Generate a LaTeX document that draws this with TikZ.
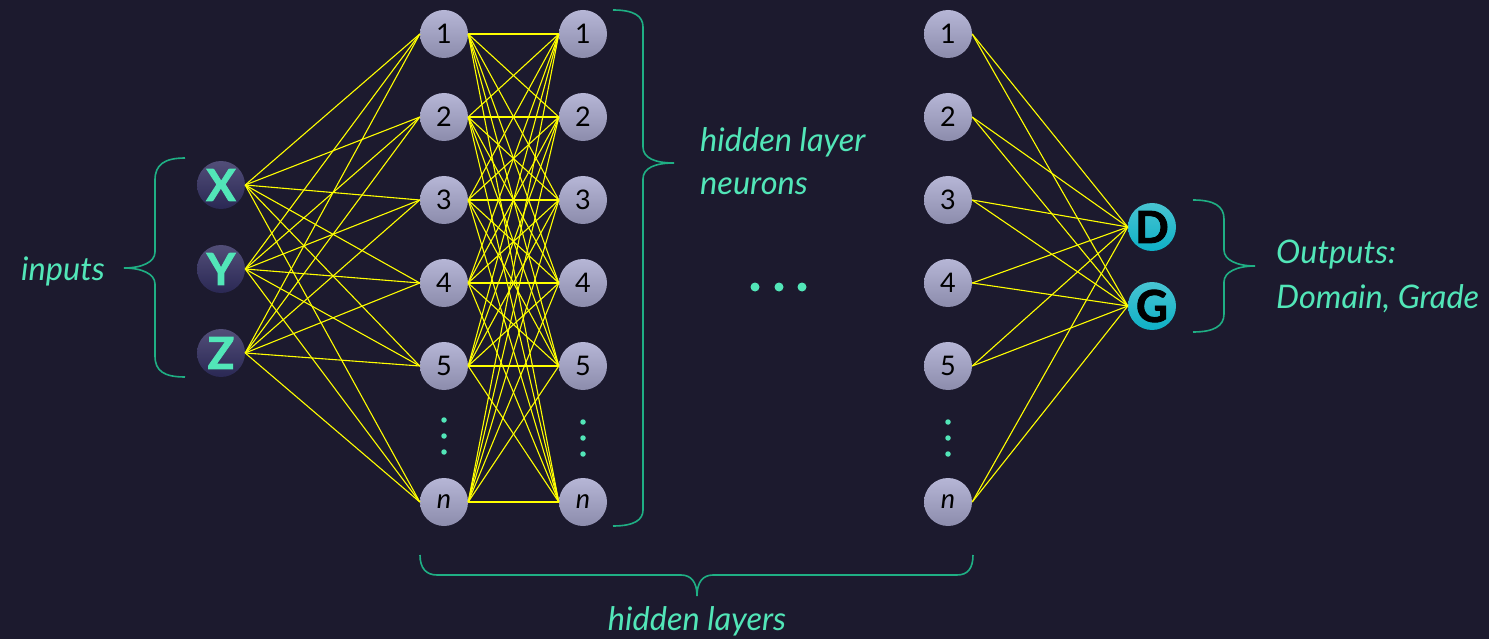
\documentclass[tikz,border=0pt]{standalone}
\usepackage{fontspec}
\setmainfont{Lato}
\newfontfamily\heavyfont[FakeBold=2]{Lato}
\definecolor{bg}{HTML}{1C1A2E}
\definecolor{mint}{HTML}{52E6B8}
\definecolor{bracec}{HTML}{1FAF84}
\definecolor{wire}{HTML}{FFFF00}
\definecolor{hidtop}{HTML}{B6B6D6}
\definecolor{hidbot}{HTML}{8C8CAC}
\definecolor{inptop}{HTML}{524E78}
\definecolor{inpbot}{HTML}{2A2854}
\definecolor{outtop}{HTML}{48C4D2}
\definecolor{outbot}{HTML}{0EB0C6}
\tikzset{
  hid/.style={circle, minimum size=48pt, inner sep=0pt, top color=hidtop, bottom color=hidbot, text=black, font=\fontsize{27}{27}\selectfont},
  inp/.style={circle, minimum size=48pt, inner sep=0pt, top color=inptop, bottom color=inpbot, text=mint, font=\fontsize{44}{44}\selectfont\heavyfont\bfseries},
  outn/.style={circle, minimum size=48pt, inner sep=0pt, top color=outtop, bottom color=outbot, text=black, font=\fontsize{44}{44}\selectfont\heavyfont\bfseries},
  wireline/.style={draw=wire, line width=1.1pt},
  bracepath/.style={draw=bracec, line width=1.6pt},
  lbl/.style={text=mint, inner sep=0pt, font=\fontsize{32.5}{36}\selectfont\itshape},
  vdot/.style={circle, fill=mint, inner sep=0pt, minimum size=5.5pt},
  hdot/.style={circle, fill=mint, inner sep=0pt, minimum size=9pt}
}
\begin{document}
\begin{tikzpicture}[x=1pt,y=-1pt]
\fill[bg] (0,0) rectangle (1489,639);
\useasboundingbox (0,0) rectangle (1489,639);
% input nodes
\node[inp] (i1) at (221,185) {X};
\node[inp] (i2) at (221,269) {Y};
\node[inp] (i3) at (221,353) {Z};
% hidden layers
\foreach \y/\t [count=\k] in {34/1,117/2,200/3,283/4,366/5,502/\textit{n}} {
  \node[hid] (a\k) at (444,\y) {\t};
  \node[hid] (b\k) at (583,\y) {\t};
  \node[hid] (c\k) at (948,\y) {\t};
}
% outputs
\node[outn] (oD) at (1152,227) {D};
\node[outn] (oG) at (1152,306) {G};
% connections
\foreach \i in {1,2,3} \foreach \k in {1,...,6} \draw[wireline] (i\i.east) -- (a\k.west);
\foreach \j in {1,...,6} \foreach \k in {1,...,6} \draw[wireline] (a\j.east) -- (b\k.west);
\foreach \j in {1,...,6} \foreach \o in {D,G} \draw[wireline] (c\j.east) -- (o\o.west);
% vertical dots
\foreach \x/\s [count=\m] in {444/0,583/2,948/2} {
  \node[vdot] (vd\m a) at (\x,420+\s) {};
  \node[vdot] (vd\m b) at (\x,436+\s) {};
  \node[vdot] (vd\m c) at (\x,452+\s) {};
}
% horizontal dots
\node[hdot] (hd1) at (755,287) {};
\node[hdot] (hd2) at (779,287) {};
\node[hdot] (hd3) at (802,287) {};
% braces
\draw[bracepath] (185,158) .. controls (164,158) and (155,165) .. (155,180) -- (155,252) .. controls (155,262) and (142,268) .. (124,268) .. controls (142,268) and (155,274) .. (155,284) -- (155,356) .. controls (155,371) and (164,377) .. (185,377);
\draw[bracepath] (613,10) .. controls (634,10) and (643,16) .. (643,27) -- (643,147) .. controls (643,158) and (655,163) .. (674,163) .. controls (655,163) and (643,168) .. (643,179) -- (643,510) .. controls (643,520) and (634,526) .. (613,526);
\draw[bracepath] (1193,200) .. controls (1214,200) and (1224,206) .. (1224,219) -- (1224,250) .. controls (1224,260) and (1237,266) .. (1255,266) .. controls (1237,266) and (1224,272) .. (1224,282) -- (1224,314) .. controls (1224,326) and (1214,332) .. (1193,332);
\draw[bracepath] (420,555) .. controls (420,568) and (426,575) .. (437,575) -- (681,575) .. controls (691,575) and (697,582) .. (697,596) .. controls (697,582) and (703,575) .. (713,575) -- (957,575) .. controls (968,575) and (973,568) .. (973,555);
% labels
\node[lbl, anchor=base] (linp) at (63,280) {inputs};
\node[lbl, anchor=base west] (lhid1) at (700,152) {hidden layer};
\node[lbl, anchor=base west] (lhid2) at (700,195) {neurons};
\node[lbl, anchor=base west] (lout1) at (1276,263) {Outputs:};
\node[lbl, anchor=base west] (lout2) at (1276,308) {Domain, Grade};
\node[lbl, anchor=base] (lhl) at (697,630) {hidden layers};
\end{tikzpicture}
\end{document}
